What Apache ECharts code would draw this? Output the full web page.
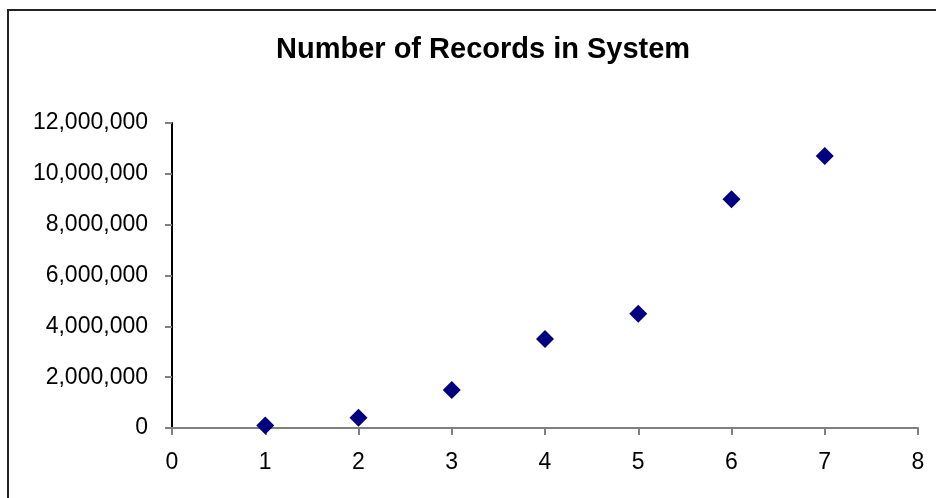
<!DOCTYPE html>
<html>
<head>
<meta charset="utf-8">
<script src="https://cdn.jsdelivr.net/npm/echarts@6/dist/echarts.min.js"></script>
<style>
html,body{margin:0;padding:0;background:#fff;}
#chart{width:936px;height:498px;}
</style>
</head>
<body>
<div id="chart"></div>
<script>
const titleText = "Number of Records in System";
const xValues = [1, 2, 3, 4, 5, 6, 7];
const recordCounts = [100000, 400000, 1500000, 3500000, 4500000, 9000000, 10700000];

const points = xValues.map((x, i) => [x, recordCounts[i]]);
const fontFam = "'Liberation Sans', Arial, sans-serif";

const chart = echarts.init(document.getElementById('chart'), null, {renderer: 'canvas'});
chart.setOption({
  backgroundColor: '#ffffff',
  animation: false,
  title: {
    text: titleText,
    left: 271,
    top: 30,
    textStyle: {fontFamily: fontFam, fontSize: 29, fontWeight: 'bold', color: '#000'}
  },
  graphic: [{
    type: 'rect',
    shape: {x: 8, y: 10, width: 940, height: 500},
    style: {fill: 'none', stroke: '#222', lineWidth: 2},
    silent: true
  }],
  grid: {left: 172, right: 18, top: 123, bottom: 70, containLabel: false},
  xAxis: {
    type: 'value',
    min: 0, max: 8, interval: 1,
    splitLine: {show: false},
    axisLine: {show: true, onZero: false, lineStyle: {color: '#808080', width: 2}},
    axisTick: {show: true, inside: false, length: 7, lineStyle: {color: '#808080', width: 2}},
    axisLabel: {margin: 23, fontFamily: fontFam, fontSize: 23, color: '#000'}
  },
  yAxis: {
    type: 'value',
    min: 0, max: 12000000, interval: 2000000,
    splitLine: {show: false},
    axisLine: {show: true, onZero: false, lineStyle: {color: '#000', width: 2}},
    axisTick: {show: true, inside: false, length: 7, lineStyle: {color: '#808080', width: 2}},
    axisLabel: {
      margin: 24, fontFamily: fontFam, fontSize: 23, color: '#000',
      formatter: v => v.toLocaleString('en-US')
    }
  },
  series: [{
    type: 'scatter',
    data: points,
    symbol: 'diamond',
    symbolSize: 18,
    itemStyle: {color: '#000080', opacity: 1}
  }]
});
</script>
</body>
</html>
